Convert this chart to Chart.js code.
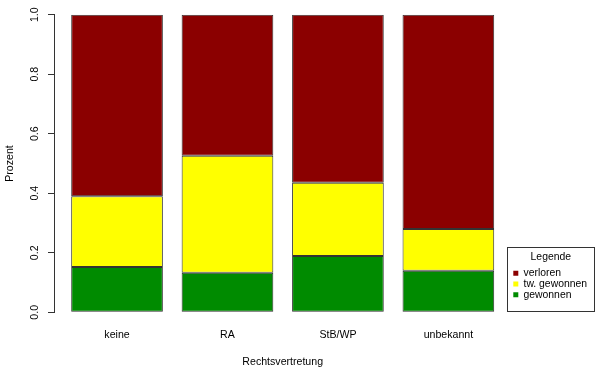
<!DOCTYPE html>
<html>
<head>
<meta charset="utf-8">
<script src="https://cdn.jsdelivr.net/npm/chart.js@4"></script>
<style>
html, body { margin: 0; padding: 0; background: #fff; }
</style>
</head>
<body>
<canvas id="chart" width="600" height="374"></canvas>
<script>
// -------------- Data --------------
const categories = ['keine', 'RA', 'StB/WP', 'unbekannt'];
const gewonnen   = [0.152, 0.133, 0.189, 0.140];
const twGewonnen = [0.238, 0.393, 0.246, 0.140];
const verloren   = [0.610, 0.474, 0.565, 0.720];
const yTicks     = [0, 0.2, 0.4, 0.6, 0.8, 1.0];

Chart.defaults.font.family = "'Liberation Sans', Arial, sans-serif";
Chart.defaults.font.size = 10.6;
Chart.defaults.color = '#000';

const axisColor = '#333';
// framed legend in the bottom right corner, like R's legend()
const legendFrame = { x: 507.5, y: 247.5, w: 87, h: 64 };

// small plugin for the R look: y axis sits left of the first bar, legend frame
const rStyle = {
    id: 'rStyle',
    afterLayout(chart) {
        const y = chart.scales.y;
        y.left -= 7.8;
        y.right -= 7.8;
        const lg = chart.legend;
        lg.left = legendFrame.x + 5.4;
        lg.top = legendFrame.y;
        lg.width = 75.8;
        lg.right = lg.left + lg.width;
        lg.height = legendFrame.h;
        lg.bottom = lg.top + lg.height;
    },
    afterDraw(chart) {
        const ctx = chart.ctx;
        ctx.save();
        ctx.strokeStyle = axisColor;
        ctx.lineWidth = 1;
        ctx.strokeRect(legendFrame.x, legendFrame.y, legendFrame.w, legendFrame.h);
        ctx.restore();
    }
};

const barStyle = { borderColor: axisColor, borderWidth: 1, borderSkipped: false,
    barPercentage: 0.83, categoryPercentage: 1.0 };

new Chart(document.getElementById('chart'), {
    type: 'bar',
    data: {
        labels: categories,
        datasets: [
            { label: 'gewonnen', data: gewonnen, backgroundColor: '#008B00', ...barStyle },
            { label: 'tw. gewonnen', data: twGewonnen, backgroundColor: '#FFFF00', ...barStyle },
            { label: 'verloren', data: verloren, backgroundColor: '#8B0000', ...barStyle }
        ]
    },
    options: {
        responsive: false,
        animation: false,
        layout: { padding: { top: 14.7, right: 96.4, bottom: 0, left: 0 } },
        plugins: {
            tooltip: { enabled: false },
            legend: {
                position: 'chartArea',
                align: 'start',
                title: { display: true, text: 'Legende', font: { size: 10.4 },
                    padding: { top: 4.0, bottom: 3.6 } },
                labels: {
                    boxWidth: 5,
                    boxHeight: 5,
                    padding: 0.4,
                    font: { size: 10.4 },
                    generateLabels: chart => Chart.defaults.plugins.legend.labels
                        .generateLabels(chart)
                        .map(l => Object.assign(l, { lineWidth: 0 }))
                        .reverse()
                }
            }
        },
        scales: {
            x: {
                stacked: true,
                grid: { display: false, drawTicks: false },
                border: { display: false },
                ticks: { padding: 16.8, maxRotation: 0, autoSkip: false },
                title: { display: true, text: 'Rechtsvertretung', padding: { top: 0, bottom: 5.6 } },
                afterFit: s => { s.height = 61.7; }
            },
            y: {
                stacked: true,
                min: 0,
                max: 1,
                afterBuildTicks: s => { s.ticks = yTicks.map(v => ({ value: v })); },
                afterFit: s => { s.width = 61.8; },
                border: { display: true, color: axisColor, width: 1 },
                grid: { drawOnChartArea: false, drawTicks: true, tickLength: 6, color: axisColor },
                ticks: { minRotation: 90, maxRotation: 90, crossAlign: 'center', padding: 5.2,
                    callback: v => v.toFixed(1) },
                title: { display: true, text: 'Prozent', padding: { top: 11.4, bottom: 0 } }
            }
        }
    },
    plugins: [rStyle]
});
</script>
</body>
</html>
